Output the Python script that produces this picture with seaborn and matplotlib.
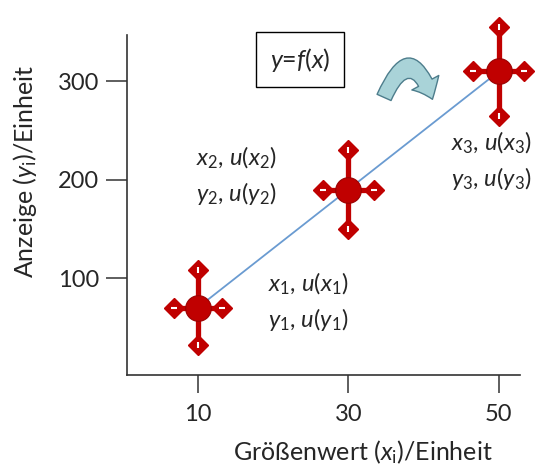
import matplotlib
matplotlib.use("Agg")
import matplotlib.pyplot as plt
import seaborn as sns
import pandas as pd
from matplotlib.patches import FancyArrowPatch

# data
x_vals = [10, 30, 50]
y_vals = [70, 190, 310]
x_err = [3.2, 3.4, 3.4]
y_err = [38, 40, 45]
x_ticks = [10, 30, 50]
y_ticks = [100, 200, 300]
point_labels = [r"$x_1$, $u(x_1)$" + "\n" + r"$y_1$, $u(y_1)$",
                r"$x_2$, $u(x_2)$" + "\n" + r"$y_2$, $u(y_2)$",
                r"$x_3$, $u(x_3)$" + "\n" + r"$y_3$, $u(y_3)$"]
label_pos = [(19.3, 76), (9.7, 204), (43.6, 219)]

df = pd.DataFrame({"x": x_vals, "y": y_vals})

sns.set_style("ticks")
plt.rcParams["font.family"] = ["Lato", "DejaVu Sans"]
plt.rcParams["mathtext.fontset"] = "custom"
plt.rcParams["mathtext.rm"] = "Lato"
plt.rcParams["mathtext.it"] = "Lato:italic"

fig = plt.figure(figsize=(5.36, 4.67), dpi=100)
ax = fig.add_axes([0.237, 0.197, 0.733, 0.728])

red = "#c00000"

# fit line between first and last point
sns.lineplot(data=df.iloc[[0, -1]], x="x", y="y", color="#6a9bd1", lw=1.3, ax=ax, zorder=1)

# error bars
ax.errorbar(x_vals, y_vals, xerr=x_err, yerr=y_err, fmt="none", ecolor=red,
            elinewidth=3.8, capsize=0, zorder=2, clip_on=False)

# diamond caps at the ends of the bars
for xv, yv, xe, ye in zip(x_vals, y_vals, x_err, y_err):
    ax.plot([xv, xv], [yv - ye, yv + ye], "D", color=red, ms=10, zorder=3, clip_on=False)
    ax.plot([xv - xe, xv + xe], [yv, yv], "D", color=red, ms=10, zorder=3, clip_on=False)
    ax.plot([xv, xv], [yv - ye, yv + ye], "|", color="white", ms=5, mew=1.5, zorder=4, clip_on=False)
    ax.plot([xv - xe, xv + xe], [yv, yv], "_", color="white", ms=5, mew=1.5, zorder=4, clip_on=False)

sns.scatterplot(data=df, x="x", y="y", color=red, s=340, edgecolor="#9a0000",
                linewidth=0.8, ax=ax, zorder=5, clip_on=False)

for txt, (tx, ty) in zip(point_labels, label_pos):
    ax.text(tx, ty, txt, fontsize=17, linespacing=1.45, va="center", ha="left")

# function box
ax.text(23.6, 322, r"$y$=$f$($x$)", fontsize=18, ha="center", va="center",
        bbox=dict(boxstyle="square,pad=0.55", fc="white", ec="black", lw=1.0))

# curved arrow
arr = FancyArrowPatch((34.6, 281), (41.3, 279), connectionstyle="arc3,rad=-1.3",
                      arrowstyle="simple,head_width=22,head_length=13,tail_width=11",
                      fc="#a9d3d8", ec="#4d7d8c", lw=1.0, zorder=3)
ax.add_patch(arr)

ax.set_xlim(0.6, 52.8)
ax.set_ylim(1.5, 347)
ax.set_xticks(x_ticks)
ax.set_yticks(y_ticks)
ax.tick_params(axis="y", length=15, width=1.1, labelsize=17, pad=5, color="#333333")
ax.tick_params(axis="x", length=13, width=1.1, labelsize=17, pad=8, color="#333333")
for s in ["left", "bottom"]:
    ax.spines[s].set_linewidth(1.2)
    ax.spines[s].set_color("#333333")
sns.despine(ax=ax)

ax.set_xlabel(r"Größenwert ($x_\mathrm{i}$)/Einheit", fontsize=18)
ax.set_ylabel(r"Anzeige ($y_\mathrm{i}$)/Einheit", fontsize=18)
ax.xaxis.set_label_coords(0.6, -0.185)
ax.yaxis.set_label_coords(-0.225, 0.6)

fig.savefig("out.png", dpi=100)
